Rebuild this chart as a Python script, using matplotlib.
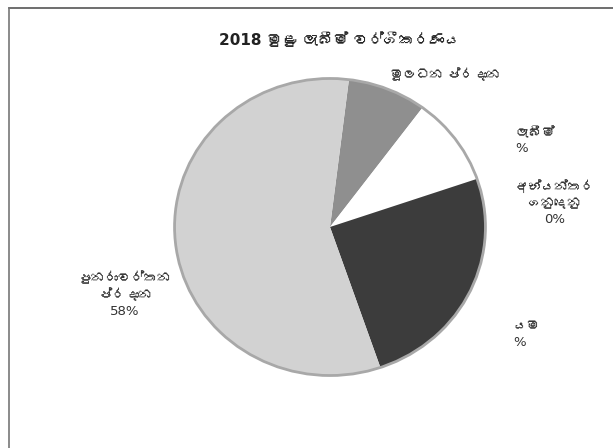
import matplotlib
matplotlib.use("Agg")
import matplotlib.pyplot as plt
from matplotlib import font_manager, ft2font
from matplotlib.lines import Line2D

# data
title = "2018 මුළු ලැබීම් වර්ගීකරණය"
values = [8.2, 9.6, 25.0, 57.2]
colors = ["#8f8f8f", "#ffffff", "#3c3c3c", "#d2d2d2"]
labels = ["මූලධන ප්‍රදාන", "ලැබීම්\n%", "අභ්‍යන්තර\nගනුදෙනු\n0%",
          "පුනරාවර්තන\nප්‍රදාන\n58%", "යම\n%"]


def sinhala_font():
    # look for any installed font that has Sinhala glyphs
    for f in font_manager.fontManager.ttflist:
        try:
            cmap = ft2font.FT2Font(f.fname).get_charmap()
        except Exception:
            continue
        if 0x0DC3 in cmap and 0x0DB8 in cmap:
            return f.name
    return None


fam = ["DejaVu Sans"]
sf = sinhala_font()
if sf:
    fam = ["DejaVu Sans", sf]
plt.rcParams["font.family"] = fam

W, H = 613, 448
fig = plt.figure(figsize=(W / 100, H / 100), dpi=100)
fig.patch.set_facecolor("white")

# frame lines (top and left only visible in the scan)
fig.add_artist(Line2D([9 / W, 1], [1 - 8 / H, 1 - 8 / H], color="#555555", lw=1.2))
fig.add_artist(Line2D([9 / W, 9 / W], [0, 1 - 8 / H], color="#777777", lw=1.2))

# pie
cx, cy, rx, ry = 330, 227, 157, 150
ax = fig.add_axes([(cx - rx) / W, 1 - (cy + ry) / H, 2 * rx / W, 2 * ry / H])
ax.pie(values, colors=colors, startangle=83, counterclock=False,
       wedgeprops=dict(edgecolor="none"))
circ = plt.Circle((0, 0), 1, fill=False, edgecolor="#a8a8a8", lw=2)
ax.add_patch(circ)
ax.set_aspect("auto")
ax.set_xlim(-1.01, 1.01)
ax.set_ylim(-1.01, 1.01)


def px(x, y):
    return x / W, 1 - y / H


fig.text(*px(340, 40), title, ha="center", va="center", fontsize=11,
         fontweight="bold", color="#222222")
fig.text(*px(445, 75), labels[0], ha="center", va="center", fontsize=9.5, color="#333333")
fig.text(*px(515, 141), labels[1], ha="left", va="center", fontsize=9.5,
         color="#333333", linespacing=1.2)
fig.text(*px(555, 203), labels[2], ha="center", va="center", fontsize=9.5,
         color="#333333", linespacing=1.3)
fig.text(*px(125, 295), labels[3], ha="center", va="center", fontsize=9.5,
         color="#333333", linespacing=1.3)
fig.text(*px(513, 335), labels[4], ha="left", va="center", fontsize=9.5,
         color="#333333", linespacing=1.3)

fig.savefig("out.png", dpi=100, facecolor="white")
